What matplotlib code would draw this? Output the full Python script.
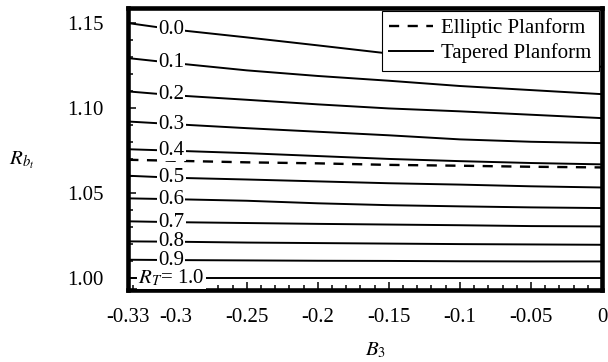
import numpy as np
import matplotlib
matplotlib.use('Agg')
import matplotlib.pyplot as plt
from matplotlib.ticker import FixedLocator, MultipleLocator

plt.rcParams['font.family'] = ['Liberation Serif', 'DejaVu Serif']
plt.rcParams['mathtext.fontset'] = 'stix'

# ---- data ----
b3 = [-1/3, -0.3, -0.25, -0.2, -0.15, -0.1, -0.05, 0.0]

rt_00 = [1.1500, 1.1461, 1.1416, 1.1369, 1.1321, 1.1290, 1.1264, 1.1243]
rt_01 = [1.1294, 1.1264, 1.1222, 1.1189, 1.1161, 1.1130, 1.1106, 1.1082]
rt_02 = [1.1098, 1.1075, 1.1049, 1.1022, 1.0998, 1.0981, 1.0961, 1.0941]
rt_03 = [1.0921, 1.0905, 1.0882, 1.0861, 1.0840, 1.0816, 1.0802, 1.0794]
rt_04 = [1.0758, 1.0749, 1.0735, 1.0718, 1.0701, 1.0688, 1.0677, 1.0669]
rt_05 = [1.0602, 1.0590, 1.0580, 1.0569, 1.0558, 1.0550, 1.0540, 1.0533]
rt_06 = [1.0469, 1.0464, 1.0455, 1.0440, 1.0429, 1.0422, 1.0416, 1.0412]
rt_07 = [1.0334, 1.0329, 1.0324, 1.0319, 1.0315, 1.0311, 1.0306, 1.0304]
rt_08 = [1.0216, 1.0214, 1.0209, 1.0206, 1.0203, 1.0200, 1.0198, 1.0196]
rt_09 = [1.0108, 1.0106, 1.0104, 1.0102, 1.0101, 1.0099, 1.0098, 1.0098]
rt_10 = [1.0000, 1.0000, 1.0000, 1.0000, 1.0000, 1.0000, 1.0000, 1.0000]

elliptic = [1.0696, 1.0690, 1.0681, 1.0675, 1.0666, 1.0661, 1.0655, 1.0651]

rt_labels = ['0.0', '0.1', '0.2', '0.3', '0.4', '0.5', '0.6', '0.7', '0.8',
             '0.9', r'$R_T$= 1.0']

x_tick_values = [-1/3, -0.3, -0.25, -0.2, -0.15, -0.1, -0.05, 0.0]
x_tick_labels = ['-0.33', '-0.3', '-0.25', '-0.2', '-0.15', '-0.1', '-0.05', '0']
y_tick_values = [1.00, 1.05, 1.10, 1.15]
y_tick_labels = ['1.00', '1.05', '1.10', '1.15']

tapered = [rt_00, rt_01, rt_02, rt_03, rt_04, rt_05, rt_06, rt_07, rt_08,
           rt_09, rt_10]

# ---- figure ----
fig = plt.figure(figsize=(6.08, 3.62), dpi=100)
W, H = 608, 362
left, right, top, bottom = 128.3, 602, 7.8, 290
ax = fig.add_axes([left / W, 1 - bottom / H, (right - left) / W, (bottom - top) / H])

FS = 15
LW = 1.4

ax.plot(b3, elliptic, color='black', lw=1.7, dashes=(4.3, 3.6),
        label='Elliptic Planform', zorder=3)
for i, vals in enumerate(tapered):
    ax.plot(b3, vals, color='black', lw=LW,
            label='Tapered Planform' if i == 0 else None, zorder=2)

label_x = -0.303
for vals, txt in zip(tapered, rt_labels):
    y = np.interp(label_x, b3, vals)
    ax.text(label_x, y, txt, ha='center', va='center', fontsize=FS,
            zorder=4,
            bbox=dict(boxstyle='square,pad=0.05', fc='white', ec='none'))

ax.set_xlim(-1/3, 0.0)
ax.set_ylim(0.993, 1.159)

ax.xaxis.set_major_locator(FixedLocator(x_tick_values))
ax.set_xticklabels(x_tick_labels)
ax.xaxis.set_minor_locator(MultipleLocator(0.01))
ax.yaxis.set_major_locator(FixedLocator(y_tick_values))
ax.set_yticklabels(y_tick_labels)
ax.yaxis.set_minor_locator(MultipleLocator(0.01))

ax.tick_params(which='both', direction='in', top=False, right=False,
               labelsize=FS, width=1.1)
ax.tick_params(which='major', length=5.8)
ax.tick_params(which='minor', length=3.5)
ax.tick_params(axis='x', which='major', pad=13)
ax.tick_params(axis='y', which='major', pad=18)

for sp in ax.spines.values():
    sp.set_linewidth(3.3)

ax.set_xlabel(r'$B_3$', fontsize=FS, va='center')
ax.xaxis.set_label_coords((376 - left) / (right - left), (bottom - 350) / (bottom - top))
ax.set_ylabel(r'$R_{b_t}$', fontsize=FS, rotation=0, ha='center', va='center')
ax.yaxis.set_label_coords((22 - left) / (right - left), (bottom - 160) / (bottom - top))

leg = ax.legend(loc='upper right', fontsize=FS, frameon=True, fancybox=False,
                framealpha=1, edgecolor='black', borderpad=0.35,
                labelspacing=0.25, handlelength=2.1, handletextpad=0.4,
                borderaxespad=0.15)
leg.get_frame().set_linewidth(0.8)
leg.set_zorder(6)

fig.savefig('out.png', dpi=100)
